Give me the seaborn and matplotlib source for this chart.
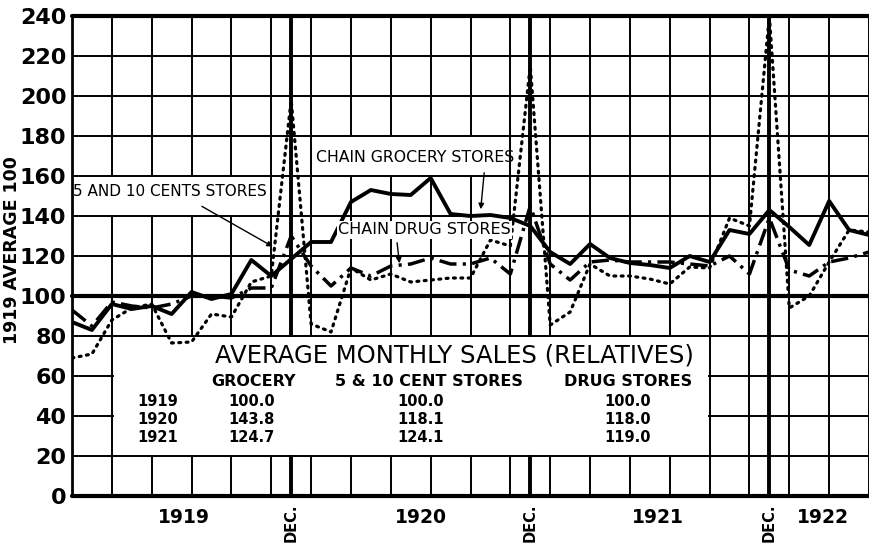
import numpy as np
import pandas as pd
import matplotlib
matplotlib.use("Agg")
import matplotlib.pyplot as plt
from matplotlib.patches import Rectangle
import seaborn as sns

# monthly relatives, Jan 1919 .. May 1922
months = list(range(41))
grocery = [87, 83, 96, 93.5, 95, 91, 102, 98.5, 101, 118, 110, 118.5,
           127, 127, 147, 153, 151, 150.5, 159, 141, 140, 140.5, 139, 135,
           122, 116, 126, 119, 116.5, 115.5, 114, 120, 117, 133, 131, 143,
           134.5, 125.5, 147.5, 133, 130.5]
five_ten = [69, 71, 88, 94, 96, 76.5, 77, 91, 89.5, 107, 110, 198,
            86, 82, 114, 108, 111, 107, 108, 109, 109, 128, 125, 215,
            85.5, 92, 116, 110, 110, 108.5, 106, 114.5, 114, 139, 135, 240,
            94, 100, 117, 133, 132]
drug = [93, 85, 97, 95, 94, 96, 100, 100, 99, 104, 104, 130,
        115, 105, 114, 110, 115, 116, 119, 116, 116, 119, 111, 145,
        116, 108, 117, 118, 117, 117, 117, 116, 115, 120, 111, 139,
        113, 110, 117, 119, 122]

table_years = ["1919", "1920", "1921"]
grocery_avg = ["100.0", "143.8", "124.7"]
five_ten_avg = ["100.0", "118.1", "124.1"]
drug_avg = ["100.0", "118.0", "119.0"]

year_labels = ["1919", "1920", "1921", "1922"]
year_pos = [5.6, 17.5, 29.4, 37.7]
dec_pos = [11, 23, 35]

sns.set_style("white")
plt.rcParams['font.family'] = ['DejaVu Sans']
plt.rcParams['text.color'] = 'black'
plt.rcParams['ytick.color'] = 'black'
plt.rcParams['xtick.color'] = 'black'

fig = plt.figure(figsize=(8.69, 5.45), dpi=100)
ax = fig.add_axes([72 / 869, 49 / 545, 797 / 869, 480 / 545])
ax.set_xlim(0, 40)
ax.set_ylim(0, 240)
for s in ax.spines.values():
    s.set_visible(False)

# grid
for x in range(0, 41, 2):
    ax.axvline(x, color="black", lw=1.4, zorder=1)
for x in dec_pos:
    ax.axvline(x, color="black", lw=2.8, zorder=1)
for y in range(20, 240, 20):
    ax.axhline(y, color="black", lw=1.4, zorder=1)
for y in [0, 100, 240]:
    ax.axhline(y, color="black", lw=3.0, zorder=1, clip_on=False)
ax.axvline(0, color="black", lw=2.0, zorder=1, clip_on=False)

# white panels that blank the grid behind labels
ax.add_patch(Rectangle((0.1, 140.6), 9.8, 18.8, facecolor="white", edgecolor="none", zorder=2))
ax.add_patch(Rectangle((12.1, 160.6), 9.8, 18.8, facecolor="white", edgecolor="none", zorder=2))
ax.add_patch(Rectangle((2.1, 20.6), 29.8, 58.8, facecolor="white", edgecolor="none", zorder=2))

df = pd.DataFrame({"month": months, "grocery": grocery, "five_ten": five_ten, "drug": drug})
sns.lineplot(data=df, x="month", y="grocery", ax=ax, color="black", lw=2.8, zorder=4)
sns.lineplot(data=df, x="month", y="five_ten", ax=ax, color="black", lw=2.3,
             linestyle=(0, (0.6, 1.7)), dash_capstyle="round", zorder=4)
sns.lineplot(data=df, x="month", y="drug", ax=ax, color="black", lw=2.5,
             linestyle=(0, (5, 1.8, 0.9, 1.8)), zorder=4)
ax.set_xlabel("")
ax.set_ylabel("")

# labels on the chart
ax.text(4.9, 152.5, "5 AND 10 CENTS STORES", ha="center", va="center", fontsize=11, zorder=5)
ax.annotate("", xy=(10.2, 124), xytext=(6.4, 145.5),
            arrowprops=dict(arrowstyle="-|>", color="black", lw=1.0, mutation_scale=8), zorder=5)
ax.text(17.2, 169, "CHAIN GROCERY STORES", ha="center", va="center", fontsize=11.3, zorder=5)
ax.annotate("", xy=(20.5, 142), xytext=(20.7, 163),
            arrowprops=dict(arrowstyle="-|>", color="black", lw=1.0, mutation_scale=8), zorder=5)
ax.text(17.7, 133, "CHAIN DRUG STORES", ha="center", va="center", fontsize=11.5, zorder=5,
        bbox=dict(facecolor="white", edgecolor="none", pad=1))
ax.annotate("", xy=(16.45, 115), xytext=(16.3, 128),
            arrowprops=dict(arrowstyle="-|>", color="black", lw=1.0, mutation_scale=8), zorder=5)

# summary table
ax.text(19.2, 70.5, "AVERAGE MONTHLY SALES (RELATIVES)", ha="center", va="center",
        fontsize=17.5, fontweight="medium", zorder=5)
cols = [9.1, 17.9, 27.9]
for c, h in zip(cols, ["GROCERY", "5 & 10 CENT STORES", "DRUG STORES"]):
    ax.text(c, 57.5, h, ha="center", va="center", fontsize=11.5, fontweight="bold", zorder=5)
rows = [47.5, 38.5, 29.5]
for r, yr, g, f, d in zip(rows, table_years, grocery_avg, five_ten_avg, drug_avg):
    ax.text(4.3, r, yr, ha="center", va="center", fontsize=10.5, fontweight="bold", zorder=5)
    ax.text(9.0, r, g, ha="center", va="center", fontsize=10.5, fontweight="bold", zorder=5)
    ax.text(17.5, r, f, ha="center", va="center", fontsize=10.5, fontweight="bold", zorder=5)
    ax.text(27.9, r, d, ha="center", va="center", fontsize=10.5, fontweight="bold", zorder=5)

# axes text
ax.set_yticks(range(0, 241, 20))
ax.set_yticklabels([str(v) for v in range(0, 241, 20)], fontsize=16, fontweight="bold")
ax.tick_params(axis="y", length=0, pad=4)
ax.set_xticks([])
for p, lab in zip(year_pos, year_labels):
    ax.text(p, -6, lab, ha="center", va="top", fontsize=13.5, fontweight="bold")
for p in dec_pos:
    ax.text(p, -3.5, "DEC.", ha="center", va="top", rotation=90, fontsize=10.5, fontweight="bold")
fig.text(12 / 869, 1 - 250 / 545, "1919 AVERAGE 100", rotation=90, ha="center", va="center",
         fontsize=12.5, fontweight="bold")

fig.savefig("out.png", dpi=100)
